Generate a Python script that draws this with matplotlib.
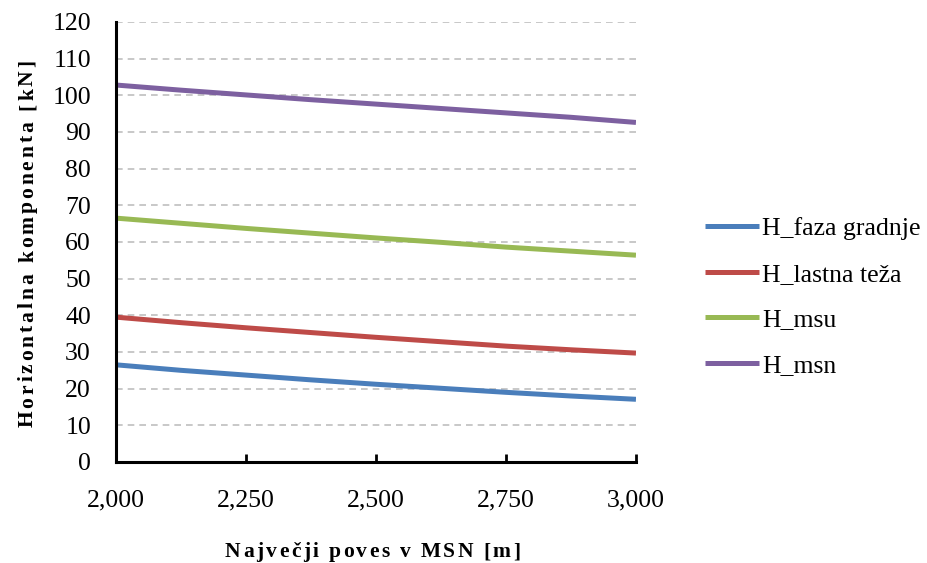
import matplotlib.pyplot as plt
from matplotlib.ticker import FuncFormatter

# values
poves = [2.000, 2.125, 2.250, 2.375, 2.500, 2.625, 2.750, 2.875, 3.000]
h_faza_gradnje = [26.5, 25.0, 23.7, 22.4, 21.2, 20.1, 19.0, 18.0, 17.1]
h_lastna_teza = [39.5, 38.0, 36.6, 35.3, 34.0, 32.8, 31.6, 30.6, 29.7]
h_msu = [66.5, 65.1, 63.7, 62.4, 61.1, 59.9, 58.6, 57.5, 56.4]
h_msn = [102.8, 101.4, 100.1, 98.8, 97.6, 96.4, 95.2, 94.0, 92.6]

series = [
    ("H_faza gradnje", h_faza_gradnje, "#4A7EBB"),
    ("H_lastna teža", h_lastna_teza, "#BE4B48"),
    ("H_msu", h_msu, "#98B954"),
    ("H_msn", h_msn, "#7D60A0"),
]

plt.rcParams["font.family"] = ["Liberation Serif", "DejaVu Serif"]

W, H = 928, 563
fig = plt.figure(figsize=(W / 100, H / 100), dpi=100)
ax = fig.add_axes([0.125, 0.1794, 0.5603, 0.7816])

for name, vals, col in series:
    ax.plot(poves, vals, color=col, linewidth=3.6, label=name, solid_capstyle="butt")

ax.set_xlim(2.0, 3.0)
ax.set_ylim(0, 120)
ax.set_xticks([2.0, 2.25, 2.5, 2.75, 3.0])
ax.set_yticks(range(0, 121, 10))
ax.xaxis.set_major_formatter(FuncFormatter(lambda v, p: "{:.3f}".format(v).replace(".", ",")))

ax.grid(axis="y", color="#BFBFBF", linestyle=(0, (4, 3)), linewidth=1.2)
ax.set_axisbelow(True)
for s in ["top", "right"]:
    ax.spines[s].set_visible(False)
for s in ["left", "bottom"]:
    ax.spines[s].set_linewidth(2.2)

ax.tick_params(axis="x", direction="in", length=6, width=2, labelsize=18.5, pad=20)
ax.tick_params(axis="y", length=0, labelsize=18.5, pad=18)

ax.legend(loc="center left", bbox_to_anchor=(1.133, 0.375), frameon=False, fontsize=18.5,
          handlelength=2.1, handletextpad=0.13, labelspacing=0.88, borderaxespad=0,
          borderpad=0)


# letter-spaced bold labels, like the Excel original
renderer = fig.canvas.get_renderer()


def char_width(c, size):
    t = fig.text(0, 0, "x" + c + "x", fontsize=size, fontweight="bold")
    w = t.get_window_extent(renderer).width
    t.set_text("xx")
    w -= t.get_window_extent(renderer).width
    t.remove()
    return w


def spaced_label(text, start, end, base, size, vertical=False):
    widths = [char_width(c, size) for c in text]
    gap = (abs(end - start) - sum(widths)) / (len(text) - 1)
    pos = start
    for c, w in zip(text, widths):
        if vertical:
            fig.text(base / W, 1 - pos / H, c, fontsize=size, fontweight="bold",
                     rotation=90, rotation_mode="anchor", ha="left", va="baseline")
            pos -= w + gap
        else:
            fig.text(pos / W, 1 - base / H, c, fontsize=size, fontweight="bold",
                     ha="left", va="baseline")
            pos += w + gap


spaced_label("Največji poves v MSN [m]", 225, 520, 557, 15.5)
spaced_label("Horizontalna komponenta [kN]", 427, 60, 33, 15.5, vertical=True)

fig.savefig("out.png", dpi=100)
